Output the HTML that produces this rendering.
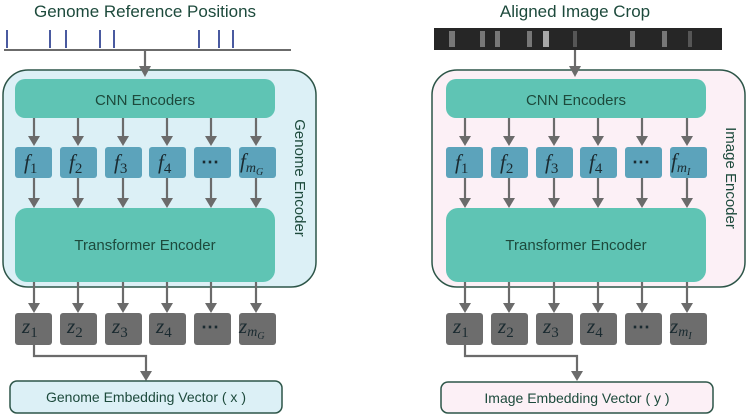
<!DOCTYPE html>
<html><head><meta charset="utf-8"><style>
html,body{margin:0;padding:0;background:#fff;}
svg{display:block;font-family:"Liberation Sans",sans-serif;}
.t{fill:#1d4a3c;}
.m{font-family:"Liberation Serif",serif;font-style:italic;font-size:21px;fill:#1a2a30;}
</style></head><body>
<svg width="751" height="414" viewBox="0 0 751 414" xmlns="http://www.w3.org/2000/svg">
<defs>
<g id="panel">
  <g stroke="#6b6b6b" stroke-width="2.2" fill="none">
    <path d="M34 118V137M78 118V137M123 118V137M167 118V137M211 118V137M256 118V137"/>
    <path d="M34 178V199M78 178V199M123 178V199M167 178V199M211 178V199M256 178V199"/>
    <path d="M34 282V304M78 282V304M123 282V304M167 282V304M211 282V304M256 282V304"/>
    <polyline points="34,345 34,356 146,356 146,372"/>
  </g>
  <g fill="#6b6b6b">
    <path d="M28 136H40L34 146Z M72 136H84L78 146Z M117 136H129L123 146Z M161 136H173L167 146Z M205 136H217L211 146Z M250 136H262L256 146Z"/>
    <path d="M28 198H40L34 208Z M72 198H84L78 208Z M117 198H129L123 208Z M161 198H173L167 208Z M205 198H217L211 208Z M250 198H262L256 208Z"/>
    <path d="M28 303H40L34 313Z M72 303H84L78 313Z M117 303H129L123 313Z M161 303H173L167 313Z M205 303H217L211 313Z M250 303H262L256 313Z"/>
    <path d="M140 371H152L146 381Z"/>
  </g>
  <rect x="15" y="79" width="260" height="39" rx="10" fill="#5fc4b4"/>
  <text x="145" y="105" text-anchor="middle" font-size="15" class="t">CNN Encoders</text>
  <g fill="#5ca3bb">
    <rect x="15" y="147" width="37" height="31" rx="3"/>
    <rect x="60" y="147" width="37" height="31" rx="3"/>
    <rect x="105" y="147" width="37" height="31" rx="3"/>
    <rect x="149" y="147" width="37" height="31" rx="3"/>
    <rect x="194" y="147" width="37" height="31" rx="3"/>
    <rect x="239" y="147" width="37" height="31" rx="3"/>
  </g>
  <rect x="15" y="208" width="260" height="74" rx="12" fill="#5fc4b4"/>
  <text x="145" y="250" text-anchor="middle" font-size="15" class="t">Transformer Encoder</text>
  <g fill="#6d6d6d">
    <rect x="15" y="313" width="37" height="32" rx="3"/>
    <rect x="60" y="313" width="37" height="32" rx="3"/>
    <rect x="105" y="313" width="37" height="32" rx="3"/>
    <rect x="149" y="313" width="37" height="32" rx="3"/>
    <rect x="194" y="313" width="37" height="32" rx="3"/>
    <rect x="239" y="313" width="37" height="32" rx="3"/>
  </g>
  <g class="m">
    <text x="24" y="169">f<tspan font-size="15" font-style="normal" dy="4">1</tspan></text>
    <text x="69" y="169">f<tspan font-size="15" font-style="normal" dy="4">2</tspan></text>
    <text x="114" y="169">f<tspan font-size="15" font-style="normal" dy="4">3</tspan></text>
    <text x="158" y="169">f<tspan font-size="15" font-style="normal" dy="4">4</tspan></text>
    <text x="201" y="168" font-style="normal" font-size="18" font-weight="bold">⋯</text>
    <text x="22" y="333">z<tspan font-size="15" font-style="normal" dy="4">1</tspan></text>
    <text x="67" y="333">z<tspan font-size="15" font-style="normal" dy="4">2</tspan></text>
    <text x="112" y="333">z<tspan font-size="15" font-style="normal" dy="4">3</tspan></text>
    <text x="156" y="333">z<tspan font-size="15" font-style="normal" dy="4">4</tspan></text>
    <text x="201" y="333" font-style="normal" font-size="18" font-weight="bold">⋯</text>
  </g>
</g>
</defs>

<!-- LEFT -->
<text x="145" y="17" text-anchor="middle" font-size="17" class="t">Genome Reference Positions</text>
<g stroke="#4a5aa0" stroke-width="2">
<line x1="7" y1="30" x2="7" y2="48"/><line x1="50" y1="30" x2="50" y2="48"/><line x1="66" y1="30" x2="66" y2="48"/>
<line x1="100" y1="30" x2="100" y2="48"/><line x1="114" y1="30" x2="114" y2="48"/><line x1="199" y1="30" x2="199" y2="48"/>
<line x1="219" y1="30" x2="219" y2="48"/><line x1="233" y1="30" x2="233" y2="48"/>
</g>
<line x1="4" y1="50" x2="291" y2="50" stroke="#6b6b6b" stroke-width="2"/>
<line x1="145" y1="50" x2="145" y2="67" stroke="#6b6b6b" stroke-width="2.2"/>
<rect x="3" y="70" width="313" height="217" rx="25" fill="#dcf0f6" stroke="#2d5548" stroke-width="1.5"/>
<path d="M139 66H151L145 77Z" fill="#6b6b6b"/>
<use href="#panel"/>
<g class="m"><text x="240" y="168">f<tspan font-size="14" dy="4">m</tspan><tspan font-size="10" dy="3">G</tspan></text>
<text x="239" y="333">z<tspan font-size="14" dy="3">m</tspan><tspan font-size="10" dy="3">G</tspan></text></g>
<text transform="translate(295,178) rotate(90)" text-anchor="middle" font-size="15" class="t">Genome Encoder</text>
<rect x="10" y="381" width="272" height="32" rx="7" fill="#dcf0f6" stroke="#2d5548" stroke-width="1.5"/>
<text x="146" y="402" text-anchor="middle" font-size="14" class="t">Genome Embedding Vector ( x )</text>

<!-- RIGHT -->
<text x="575" y="17" text-anchor="middle" font-size="17" class="t">Aligned Image Crop</text>
<rect x="434" y="28" width="288" height="22" fill="#262626"/>
<g fill="#9a9a9a" opacity=".7">
<rect x="449" y="31" width="6" height="16"/><rect x="480" y="31" width="5" height="16"/>
<rect x="495" y="31" width="5" height="16"/><rect x="527" y="31" width="5" height="16"/>
<rect x="543" y="31" width="6" height="16" fill="#e0e0e0"/><rect x="573" y="31" width="4" height="16" opacity=".6"/>
<rect x="630" y="31" width="5" height="16"/><rect x="662" y="31" width="5" height="16"/>
<rect x="688" y="31" width="4" height="16" opacity=".6"/>
</g>
<line x1="575" y1="50" x2="575" y2="67" stroke="#6b6b6b" stroke-width="2.2"/>
<rect x="432" y="70" width="313" height="217" rx="25" fill="#fcf0f6" stroke="#2d5548" stroke-width="1.5"/>
<path d="M569 66H581L575 77Z" fill="#6b6b6b"/>
<use href="#panel" transform="translate(431,0)"/>
<g class="m"><text x="671" y="168">f<tspan font-size="14" dy="4">m</tspan><tspan font-size="10" dy="3">I</tspan></text>
<text x="670" y="333">z<tspan font-size="14" dy="3">m</tspan><tspan font-size="10" dy="3">I</tspan></text></g>
<text transform="translate(726,178) rotate(90)" text-anchor="middle" font-size="15" class="t">Image Encoder</text>
<rect x="441" y="382" width="272" height="31" rx="7" fill="#fcf0f6" stroke="#2d5548" stroke-width="1.5"/>
<text x="577" y="403" text-anchor="middle" font-size="14" class="t">Image Embedding Vector ( y )</text>
</svg>
</body></html>
